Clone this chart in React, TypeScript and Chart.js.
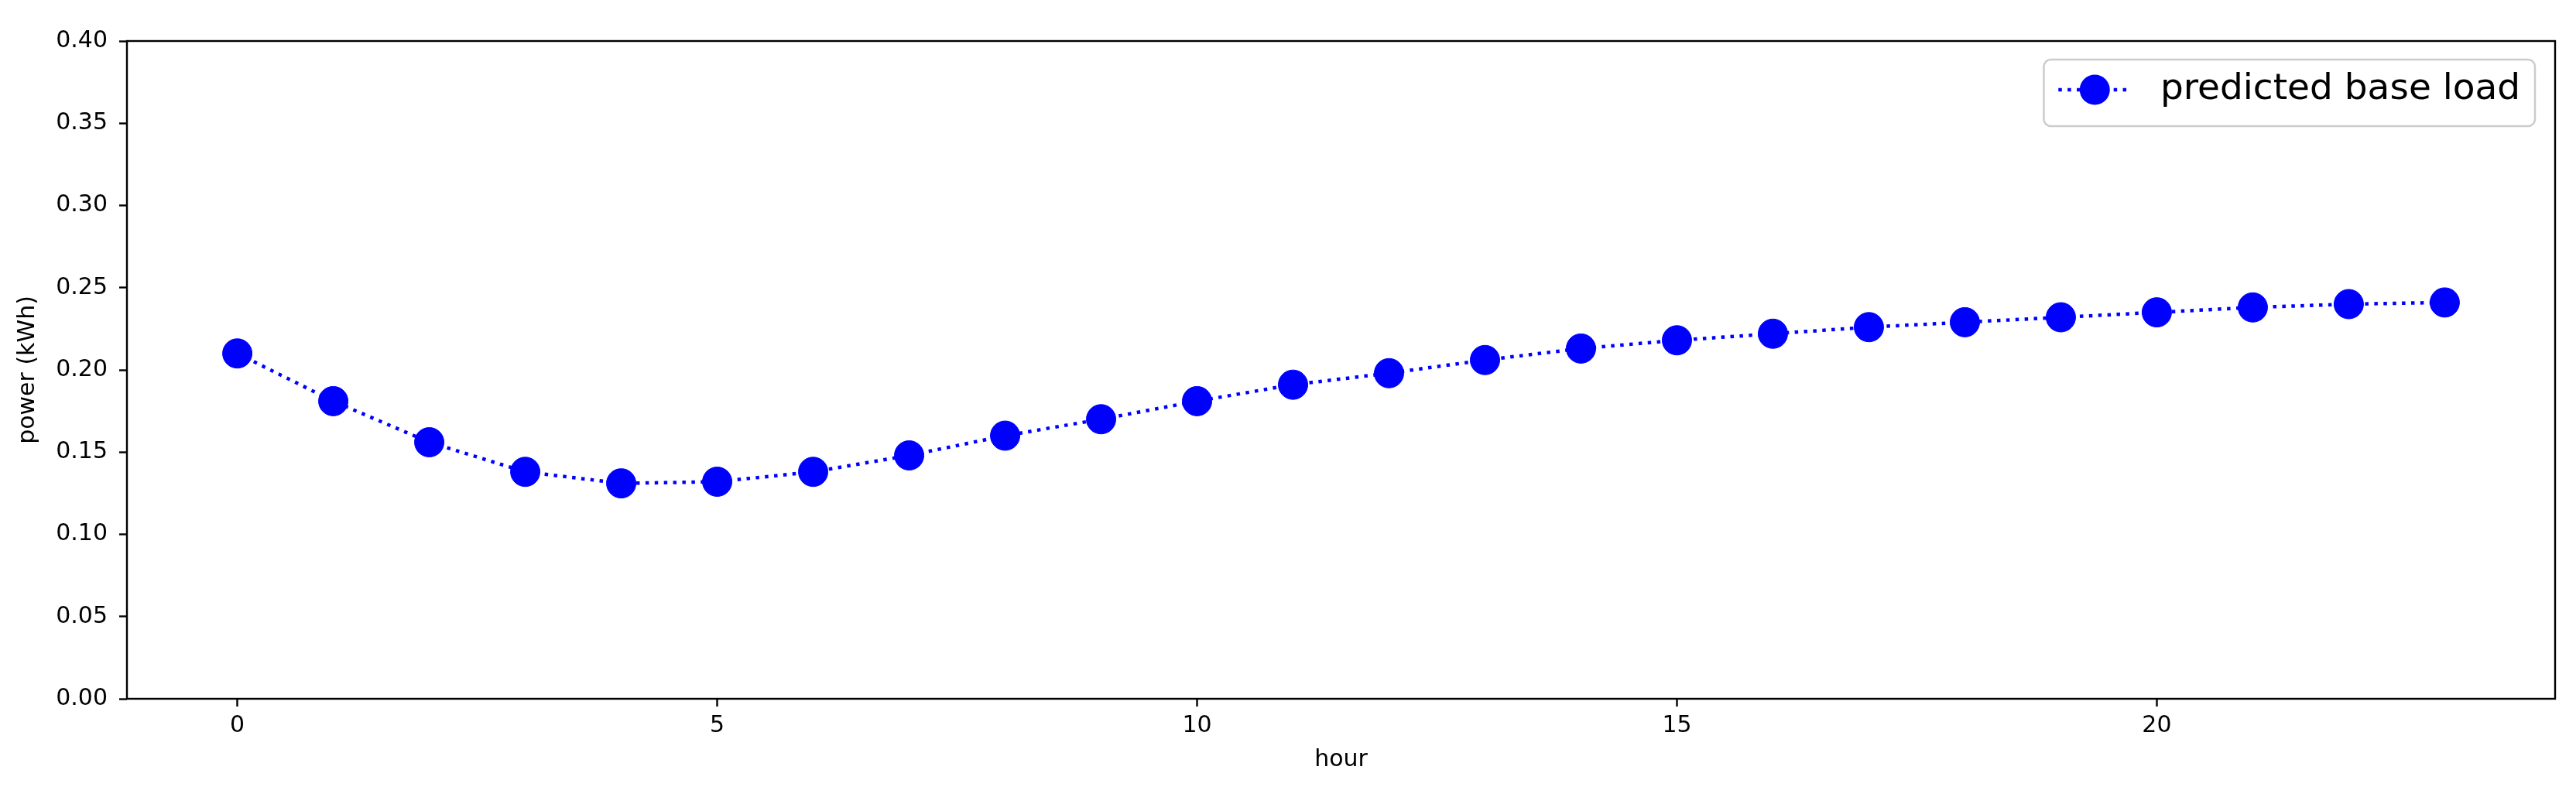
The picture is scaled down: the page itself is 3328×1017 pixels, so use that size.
import React, { useEffect, useRef } from "react";
import { Chart, registerables } from "chart.js";

Chart.register(...registerables);

// ---- data ----
const hours = [0, 1, 2, 3, 4, 5, 6, 7, 8, 9, 10, 11, 12, 13, 14, 15, 16, 17, 18, 19, 20, 21, 22, 23];
const baseLoad = [
  0.21, 0.181, 0.156, 0.138, 0.131, 0.132, 0.138, 0.148, 0.16, 0.17, 0.181, 0.191,
  0.198, 0.206, 0.213, 0.218, 0.222, 0.226, 0.229, 0.232, 0.235, 0.238, 0.24, 0.241,
];
const xTicks = [0, 5, 10, 15, 20];
const yTicks = [0, 0.05, 0.1, 0.15, 0.2, 0.25, 0.3, 0.35, 0.4];
const seriesLabel = "predicted base load";
const xTitle = "hour";
const yTitle = "power (kWh)";
const xMin = -1.15;
const xMax = 24.15;
const yMin = 0;
const yMax = 0.4;

const FONT = '"DejaVu Sans", sans-serif';
const BLUE = "#0000ff";

const spinesPlugin = {
  id: "spines",
  afterDatasetsDraw(chart: any) {
    const { ctx, chartArea } = chart;
    ctx.save();
    ctx.strokeStyle = "#000000";
    ctx.lineWidth = 2.4;
    ctx.setLineDash([]);
    ctx.strokeRect(chartArea.left, chartArea.top, chartArea.right - chartArea.left, chartArea.bottom - chartArea.top);
    ctx.restore();
  },
};

const legendPlugin = {
  id: "mplLegend",
  afterDraw(chart: any) {
    const { ctx, chartArea } = chart;
    const ds = chart.data.datasets[0];
    const fs = 47;
    ctx.save();
    ctx.font = `${fs}px ${FONT}`;
    const textW = ctx.measureText(ds.label).width;
    const pad = 0.4 * fs;
    const handleLen = 2 * fs;
    const handlePad = 0.8 * fs;
    const boxW = pad + handleLen + handlePad + textW + pad;
    const boxH = 86;
    const right = chartArea.right - 26;
    const top = chartArea.top + 24;
    const left = right - boxW;
    const r = 9;
    ctx.beginPath();
    ctx.moveTo(left + r, top);
    ctx.lineTo(right - r, top);
    ctx.arcTo(right, top, right, top + r, r);
    ctx.lineTo(right, top + boxH - r);
    ctx.arcTo(right, top + boxH, right - r, top + boxH, r);
    ctx.lineTo(left + r, top + boxH);
    ctx.arcTo(left, top + boxH, left, top + boxH - r, r);
    ctx.lineTo(left, top + r);
    ctx.arcTo(left, top, left + r, top, r);
    ctx.closePath();
    ctx.fillStyle = "rgba(255,255,255,0.8)";
    ctx.fill();
    ctx.strokeStyle = "#cccccc";
    ctx.lineWidth = 2.5;
    ctx.stroke();

    const cy = top + 39;
    const x0 = left + pad;
    ctx.beginPath();
    ctx.setLineDash(ds.borderDash);
    ctx.lineCap = "butt";
    ctx.lineWidth = ds.borderWidth;
    ctx.strokeStyle = ds.borderColor;
    ctx.moveTo(x0, cy);
    ctx.lineTo(x0 + handleLen, cy);
    ctx.stroke();
    ctx.setLineDash([]);
    ctx.beginPath();
    ctx.arc(x0 + handleLen / 2, cy, ds.pointRadius + 0.5, 0, Math.PI * 2);
    ctx.fillStyle = ds.pointBackgroundColor;
    ctx.fill();

    ctx.fillStyle = "#000000";
    ctx.textBaseline = "middle";
    ctx.textAlign = "left";
    ctx.fillText(ds.label, x0 + handleLen + handlePad, cy);
    ctx.restore();
  },
};

export default function App() {
  const canvasRef = useRef<HTMLCanvasElement | null>(null);

  useEffect(() => {
    const canvas = canvasRef.current;
    if (!canvas) return;
    const chart = new Chart(canvas, {
      type: "line",
      data: {
        datasets: [
          {
            label: seriesLabel,
            data: hours.map((h, i) => ({ x: h, y: baseLoad[i] })),
            borderColor: BLUE,
            backgroundColor: BLUE,
            borderWidth: 4.5,
            borderDash: [4.5, 7.4],
            borderCapStyle: "butt",
            tension: 0,
            fill: false,
            pointRadius: 19,
            pointBorderWidth: 1,
            pointBackgroundColor: BLUE,
            pointBorderColor: BLUE,
            pointHoverRadius: 19,
          } as any,
        ],
      },
      options: {
        responsive: false,
        animation: false,
        devicePixelRatio: 1,
        events: [],
        layout: { padding: { top: 53, right: 27, left: 0, bottom: 0 } },
        plugins: {
          legend: { display: false },
          tooltip: { enabled: false },
          title: { display: false },
        },
        scales: {
          x: {
            type: "linear",
            min: xMin,
            max: xMax,
            afterBuildTicks: (scale: any) => {
              scale.ticks = xTicks.map((v) => ({ value: v }));
            },
            afterFit: (scale: any) => {
              scale.height = 114;
            },
            border: { display: false },
            grid: {
              drawOnChartArea: false,
              drawTicks: true,
              tickLength: 10,
              tickColor: "#000000",
              tickWidth: 2.4,
            },
            ticks: {
              autoSkip: false,
              maxRotation: 0,
              padding: 7,
              color: "#000000",
              font: { family: FONT, size: 30 },
              callback: (v: any) => String(v),
            },
            title: {
              display: true,
              text: xTitle,
              color: "#000000",
              font: { family: FONT, size: 30 },
              padding: { top: 0, bottom: 17 },
            },
          },
          y: {
            type: "linear",
            min: yMin,
            max: yMax,
            afterBuildTicks: (scale: any) => {
              scale.ticks = yTicks.map((v) => ({ value: v }));
            },
            afterFit: (scale: any) => {
              scale.width = 164;
            },
            border: { display: false },
            grid: {
              drawOnChartArea: false,
              drawTicks: true,
              tickLength: 10,
              tickColor: "#000000",
              tickWidth: 2.4,
            },
            ticks: {
              autoSkip: false,
              padding: 15,
              color: "#000000",
              font: { family: FONT, size: 30 },
              callback: (v: any) => Number(v).toFixed(2),
            },
            title: {
              display: true,
              text: yTitle,
              color: "#000000",
              font: { family: FONT, size: 30 },
              padding: { top: 18, bottom: 0 },
            },
          },
        },
      },
      plugins: [spinesPlugin, legendPlugin],
    });
    return () => chart.destroy();
  }, []);

  return (
    <div style={{ position: "absolute", left: 0, top: 0, width: 3328, height: 1017, background: "#ffffff" }}>
      <canvas ref={canvasRef} width={3328} height={1017} style={{ display: "block", width: 3328, height: 1017 }} />
    </div>
  );
}
